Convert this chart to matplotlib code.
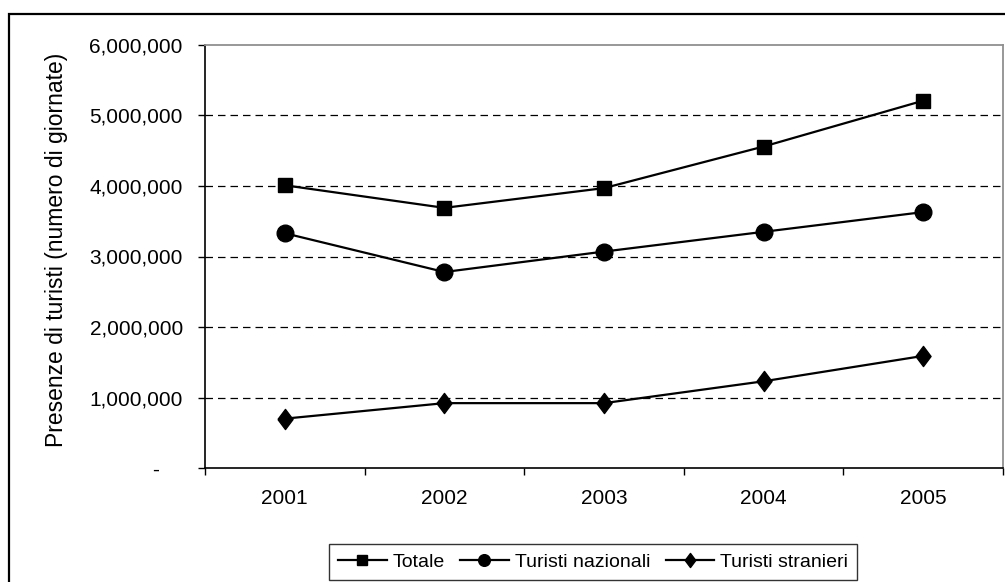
import matplotlib.pyplot as plt
from matplotlib.ticker import FuncFormatter
from matplotlib.patches import Rectangle

plt.rcParams['font.family'] = ['Liberation Sans', 'DejaVu Sans']

anni = ["2001", "2002", "2003", "2004", "2005"]
totale = [4010000, 3690000, 3970000, 4560000, 5210000]
nazionali = [3330000, 2780000, 3070000, 3350000, 3630000]
stranieri = [700000, 920000, 920000, 1230000, 1590000]

fig = plt.figure(figsize=(10.05, 5.82), dpi=100)
ax = fig.add_axes([205 / 1005, 1 - 468 / 582, 798 / 1005, 423 / 582])

# cornice esterna (tagliata a destra e in basso come nell'originale)
fig.patches.append(Rectangle((9 / 1005, -0.1), 1.2, 1 - 14 / 582 + 0.1,
                             transform=fig.transFigure, fill=False,
                             edgecolor="black", linewidth=1.6))

x = list(range(len(anni)))
rombo = [(-0.75, 0), (0, 1), (0.75, 0), (0, -1), (-0.75, 0)]

ax.plot(x, totale, color="black", lw=1.6, marker="s", ms=9.5, label="Totale")
ax.plot(x, nazionali, color="black", lw=1.6, marker="o", ms=12, label="Turisti nazionali")
ax.plot(x, stranieri, color="black", lw=1.6, marker=rombo, ms=14.5, label="Turisti stranieri")

ax.set_xlim(-0.5, 4.5)
ax.set_ylim(0, 6000000)
ax.set_yticks(range(0, 6000001, 1000000))
ax.yaxis.set_major_formatter(FuncFormatter(lambda v, p: "-    " if v == 0 else f"{int(v):,}"))

for v in range(1000000, 6000000, 1000000):
    ax.axhline(v, color="black", lw=0.9, dashes=(6, 4), zorder=0)

ax.set_xticks(x)
ax.set_xticklabels(anni)
ax.set_xticks([i - 0.5 for i in range(6)], minor=True)
ax.tick_params(axis="x", which="major", length=0, pad=15, labelsize=15)
ax.tick_params(axis="x", which="minor", length=5, width=1, direction="out")
ax.tick_params(axis="y", length=5, width=1, direction="out", pad=11, labelsize=15)

for s in ["top", "right"]:
    ax.spines[s].set_color("#909090")
    ax.spines[s].set_linewidth(1.3)
for s in ["left", "bottom"]:
    ax.spines[s].set_color("black")
    ax.spines[s].set_linewidth(1.2)

fig.text(57 / 1005, 1 - 250 / 582, "Presenze di turisti (numero di giornate)",
         rotation=90, ha="center", va="center", fontsize=16.5)

leg = ax.legend(loc="center", bbox_to_anchor=(593 / 1005, 1 - 562 / 582),
                bbox_transform=fig.transFigure, ncol=3, fontsize=14,
                frameon=True, fancybox=False, handlelength=2.5,
                handletextpad=0.3, columnspacing=0.8, borderpad=0.45,
                borderaxespad=0, markerscale=0.7)
leg.get_frame().set_edgecolor("black")
leg.get_frame().set_linewidth(1.0)

fig.savefig("out.png", dpi=100)
